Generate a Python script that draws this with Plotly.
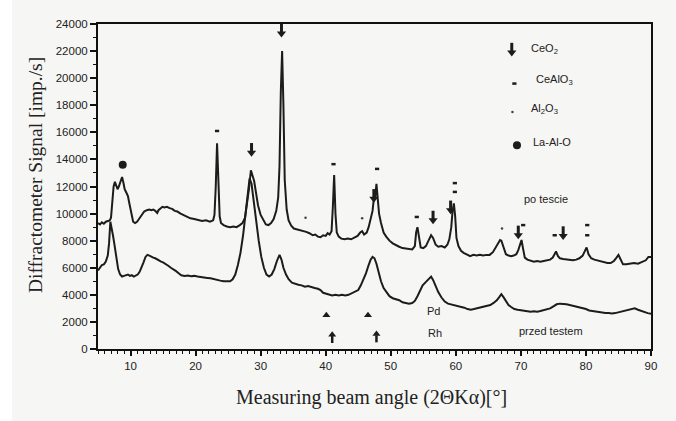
import plotly.graph_objects as go

# ---- data: "po tescie" (after test) pattern ----
x_po = [5.0, 5.3, 5.6, 5.9, 6.2, 6.5, 6.8, 7.0, 7.2, 7.4, 7.6, 7.8, 8.0, 8.2, 8.5, 8.7, 8.9, 9.1, 9.4, 9.6,
        9.8, 10.1, 10.4, 10.7, 11.0, 11.3, 11.7, 12.1, 12.5, 12.9, 13.2, 13.5, 13.8, 14.1, 14.3, 14.6, 14.9,
        15.2, 15.6, 16.0, 16.4, 16.8, 17.2, 17.7, 18.2, 18.7, 19.2, 19.8, 20.4, 21.0, 21.6, 22.2, 22.7, 22.9,
        23.1, 23.3, 23.5, 23.7, 23.9, 24.3, 24.8, 25.3, 25.8, 26.3, 26.8, 27.2, 27.6, 27.9, 28.2, 28.5, 28.7,
        29.0, 29.3, 29.6, 30.0, 30.4, 30.8, 31.2, 31.6, 32.0, 32.4, 32.7, 32.9, 33.1, 33.3, 33.5, 33.7, 34.0,
        34.3, 34.7, 35.1, 35.5, 36.0, 36.5, 37.0, 37.5, 38.0, 38.4, 38.8, 39.2, 39.6, 40.0, 40.3, 40.6, 40.9,
        41.1, 41.3, 41.5, 41.7, 42.0, 42.4, 42.9, 43.4, 43.9, 44.4, 44.9, 45.3, 45.6, 45.9, 46.3, 46.6, 46.9,
        47.2, 47.4, 47.6, 47.8, 48.0, 48.2, 48.5, 48.9, 49.3, 49.8, 50.3, 50.8, 51.3, 51.8, 52.3, 52.8, 53.3,
        53.7, 53.9, 54.1, 54.3, 54.6, 55.0, 55.4, 55.8, 56.2, 56.5, 56.9, 57.3, 57.8, 58.3, 58.7, 59.0, 59.3,
        59.5, 59.7, 59.9, 60.1, 60.4, 60.8, 61.2, 61.7, 62.2, 62.7, 63.2, 63.7, 64.2, 64.7, 65.2, 65.7, 66.1,
        66.5, 66.8, 67.0, 67.3, 67.7, 68.1, 68.5, 68.9, 69.3, 69.6, 69.9, 70.1, 70.3, 70.6, 71.0, 71.5, 72.0,
        72.5, 73.0, 73.5, 74.0, 74.5, 74.9, 75.2, 75.4, 75.7, 76.0, 76.5, 77.0, 77.5, 78.0, 78.5, 79.0, 79.5,
        79.8, 80.1, 80.4, 80.8, 81.3, 82.0, 82.7, 83.3, 83.8, 84.3, 84.7, 85.0, 85.3, 85.7, 86.2, 86.8, 87.4,
        88.0, 88.6, 89.2, 89.6, 90.0]
y_po = [9300, 9200, 9350, 9250, 9400, 9450, 9500, 9700, 10800, 12000, 12350, 12100, 11800, 12000, 12400, 12700,
        12300, 11800, 11500, 11300, 10800, 10000, 9400, 9300, 9400, 9600, 9900, 10150, 10250, 10300, 10250,
        10300, 10200, 10050, 10250, 10400, 10500, 10450, 10500, 10400, 10350, 10200, 10150, 10000, 9900, 9800,
        9650, 9600, 9500, 9450, 9500, 9400, 9500, 9900, 12000, 15200, 12500, 9800, 9300, 9150, 9050, 9000,
        9050, 9000, 9150, 9300, 9700, 10600, 11800, 13200, 12800, 12400, 11500, 10600, 9900, 9500, 9200, 9150,
        9300, 9600, 10200, 11200, 13500, 19000, 22000, 18000, 12500, 10300, 9500, 9100, 8900, 8850, 8800, 8750,
        8650, 8550, 8400, 8450, 8300, 8250, 8400, 8350, 8550, 8450, 8700, 10500, 12850, 10000, 8600, 8300, 8150,
        8100, 8150, 8100, 8200, 8350, 8600, 8700, 8450, 8600, 9000, 9600, 10200, 11100, 11200, 12200, 11000,
        10000, 9300, 8600, 8300, 8000, 7800, 7650, 7550, 7450, 7400, 7350, 7350, 7600, 8600, 9000, 8300, 7500,
        7450, 7600, 8000, 8400, 8200, 7700, 7550, 7600, 7500, 7700, 8100, 9000, 10200, 10750, 9800, 8200, 7600,
        7250, 7100, 6950, 6850, 6950, 6900, 6950, 6900, 6950, 6950, 7150, 7450, 7750, 8050, 8000, 7600, 7000,
        6900, 6850, 6900, 7000, 7300, 7700, 8050, 7500, 6750, 6600, 6500, 6450, 6500, 6450, 6500, 6550, 6600,
        6750, 7100, 7200, 6850, 6700, 6650, 6600, 6600, 6550, 6600, 6700, 6900, 7200, 7500, 7000, 6700, 6600,
        6500, 6400, 6350, 6350, 6500, 6750, 6950, 6650, 6250, 6250, 6300, 6350, 6300, 6400, 6550, 6800, 6800]

# ---- data: "przed testem" (before test) pattern ----
x_pr = [5.0, 5.3, 5.6, 5.9, 6.2, 6.5, 6.7, 6.9, 7.1, 7.3, 7.5, 7.8, 8.1, 8.4, 8.7, 9.0, 9.3, 9.6, 9.9, 10.2,
        10.5, 10.8, 11.1, 11.4, 11.7, 12.0, 12.3, 12.6, 12.9, 13.2, 13.5, 13.8, 14.1, 14.4, 14.7, 15.0, 15.4,
        15.8, 16.2, 16.6, 17.0, 17.4, 17.8, 18.3, 18.8, 19.3, 19.8, 20.3, 20.8, 21.3, 21.8, 22.3, 22.8, 23.3,
        23.8, 24.3, 24.8, 25.3, 25.7, 26.1, 26.5, 26.9, 27.3, 27.7, 28.0, 28.3, 28.6, 28.9, 29.3, 29.7, 30.1,
        30.5, 30.9, 31.3, 31.7, 32.1, 32.5, 32.9, 33.2, 33.5, 33.9, 34.3, 34.8, 35.3, 35.8, 36.3, 36.8, 37.3,
        37.8, 38.3, 38.8, 39.2, 39.6, 40.0, 40.5, 41.0, 41.5, 42.0, 42.5, 43.0, 43.5, 44.0, 44.5, 45.0, 45.4,
        45.8, 46.2, 46.6, 46.9, 47.2, 47.5, 47.8, 48.1, 48.5, 48.9, 49.3, 49.8, 50.3, 50.8, 51.3, 51.8, 52.3,
        52.8, 53.3, 53.7, 54.1, 54.5, 54.9, 55.3, 55.7, 56.0, 56.2, 56.5, 56.9, 57.3, 57.8, 58.3, 58.8, 59.3,
        59.8, 60.3, 60.8, 61.3, 61.8, 62.3, 62.8, 63.3, 63.8, 64.3, 64.8, 65.3, 65.8, 66.3, 66.7, 67.0, 67.3,
        67.7, 68.1, 68.5, 69.0, 69.5, 70.0, 70.5, 71.0, 71.5, 72.0, 72.5, 73.0, 73.5, 74.0, 74.5, 75.0, 75.5,
        76.0, 76.5, 77.0, 77.5, 78.0, 78.5, 79.0, 79.5, 80.0, 80.5, 81.0, 81.5, 82.0, 82.5, 83.0, 83.5, 84.0,
        84.5, 85.0, 85.5, 86.0, 86.5, 87.0, 87.5, 88.0, 88.5, 89.0, 89.5, 90.0]
y_pr = [5800, 6000, 6200, 6250, 6450, 6900, 7800, 9400, 9000, 8400, 7800, 6800, 5900, 5500, 5350, 5400, 5450,
        5500, 5400, 5450, 5350, 5400, 5500, 5700, 6000, 6400, 6800, 6950, 6900, 6800, 6750, 6700, 6600, 6550,
        6450, 6400, 6300, 6150, 6000, 5900, 5750, 5600, 5450, 5400, 5420, 5380, 5400, 5350, 5300, 5300, 5250,
        5220, 5150, 5100, 5050, 5000, 4980, 5000, 5150, 5500, 6200, 7100, 8400, 10200, 11500, 12600, 12200,
        11000, 9500, 8000, 6800, 6000, 5500, 5350, 5500, 5900, 6500, 6950, 6600, 6000, 5500, 5150, 4900, 4800,
        4750, 4700, 4600, 4650, 4550, 4500, 4450, 4350, 4150, 4100, 4000, 3950, 4000, 3950, 4000, 3950, 4000,
        4100, 4200, 4350, 4700, 5150, 5600, 6200, 6600, 6800, 6700, 6300, 5700, 5000, 4500, 4200, 3900, 3750,
        3700, 3600, 3450, 3400, 3350, 3400, 3550, 3900, 4350, 4700, 4900, 5100, 5300, 5350, 5100, 4600, 4200,
        3800, 3500, 3350, 3300, 3250, 3200, 3150, 3050, 2950, 2900, 2950, 3000, 3050, 3100, 3200, 3250, 3400,
        3600, 3850, 4050, 3850, 3500, 3250, 3100, 2950, 2900, 2850, 2850, 2800, 2750, 2780, 2750, 2800, 2850,
        2900, 3000, 3150, 3300, 3350, 3350, 3300, 3250, 3200, 3100, 3050, 3000, 2950, 2850, 2800, 2750, 2700,
        2700, 2650, 2650, 2620, 2650, 2700, 2750, 2800, 2900, 2950, 3000, 2900, 2800, 2700, 2650, 2600]

# ---- phase markers (peak identification) ----
ceo2_x = [28.6, 33.2, 47.4, 56.5, 59.2, 69.6, 76.5]
ceo2_y = [14500, 23300, 11100, 9500, 10250, 8400, 8350]
cealo3_x = [23.3, 41.2, 47.9, 54.0, 59.85, 59.85, 70.35, 75.2, 80.2, 80.2]
cealo3_y = [16100, 13650, 13300, 9750, 12250, 11600, 9150, 8400, 9150, 8400]
al2o3_x = [36.9, 45.6, 67.1]
al2o3_y = [9700, 9650, 8900]
laalo_x = [8.8]
laalo_y = [13600]
pd_x = [40.1, 46.5]
pd_y = [2500, 2500]
rh_x = [41.0, 47.8]
rh_y = [1050, 1100]

# legend keys
legend_labels = ["CeO<sub>2</sub>", "CeAlO<sub>3</sub>", "Al<sub>2</sub>O<sub>3</sub>", "La-Al-O"]
legend_sym_x = [68.6, 69.0, 68.7, 69.4]
legend_sym_y = [21900, 19600, 17500, 15050]
legend_txt_x = [71.3, 72.0, 71.2, 71.5]

# curve labels
curve_labels = ["po tescie", "przed testem", "Pd", "Rh"]
curve_label_x = [73.8, 74.6, 56.5, 56.8]
curve_label_y = [11050, 1350, 2800, 1200]

BG = "#f6f6f4"
INK = "#1c1c1c"

fig = go.Figure()
fig.add_trace(go.Scatter(x=x_po, y=y_po, mode="lines", line=dict(color=INK, width=2), showlegend=False))
fig.add_trace(go.Scatter(x=x_pr, y=y_pr, mode="lines", line=dict(color=INK, width=2), showlegend=False))

# CeO2: thick down arrow (head + stem)
stem_off = 400
fig.add_trace(go.Scatter(x=ceo2_x + [legend_sym_x[0]], y=ceo2_y + [legend_sym_y[0]], mode="markers",
                         marker=dict(symbol="triangle-down", size=8, color=INK), showlegend=False))
fig.add_trace(go.Scatter(x=ceo2_x + [legend_sym_x[0]], y=[v + stem_off for v in ceo2_y + [legend_sym_y[0]]],
                         mode="markers", marker=dict(symbol="line-ns", size=6, line=dict(color=INK, width=3)),
                         showlegend=False))
# CeAlO3: short dash
fig.add_trace(go.Scatter(x=cealo3_x + [legend_sym_x[1]], y=cealo3_y + [legend_sym_y[1]], mode="markers",
                         marker=dict(symbol="line-ew", size=3, line=dict(color=INK, width=2.5)), showlegend=False))
# Al2O3: tiny dot
fig.add_trace(go.Scatter(x=al2o3_x + [legend_sym_x[2]], y=al2o3_y + [legend_sym_y[2]], mode="markers",
                         marker=dict(symbol="circle", size=2.5, color="#444"), showlegend=False))
# La-Al-O: filled circle
fig.add_trace(go.Scatter(x=laalo_x + [legend_sym_x[3]], y=laalo_y + [legend_sym_y[3]], mode="markers",
                         marker=dict(symbol="circle", size=8, color=INK), showlegend=False))
# Pd: triangle up
fig.add_trace(go.Scatter(x=pd_x, y=pd_y, mode="markers",
                         marker=dict(symbol="triangle-up", size=7, color=INK), showlegend=False))
# Rh: up arrow
fig.add_trace(go.Scatter(x=rh_x, y=rh_y, mode="markers",
                         marker=dict(symbol="triangle-up", size=7, color=INK), showlegend=False))
fig.add_trace(go.Scatter(x=rh_x, y=[v - 350 for v in rh_y], mode="markers",
                         marker=dict(symbol="line-ns", size=5, line=dict(color=INK, width=2.5)), showlegend=False))

annotations = []
for lab, tx, ty in zip(legend_labels, legend_txt_x, legend_sym_y):
    annotations.append(dict(x=tx, y=ty + 250, xref="x", yref="y", text=lab, showarrow=False,
                            xanchor="left", yanchor="middle",
                            font=dict(family="Liberation Sans, Arial", size=11, color="#222")))
for lab, tx, ty in zip(curve_labels, curve_label_x, curve_label_y):
    annotations.append(dict(x=tx, y=ty, xref="x", yref="y", text=lab, showarrow=False,
                            xanchor="center", yanchor="middle",
                            font=dict(family="Liberation Sans, Arial", size=11, color="#222")))
annotations.append(dict(x=-0.114, y=0.535, xref="paper", yref="paper", text="Diffractometer Signal [imp./s]",
                        textangle=-90, showarrow=False, xanchor="center", yanchor="middle",
                        font=dict(family="Liberation Serif, Times New Roman", size=19.5, color="#222")))
annotations.append(dict(x=0.494, y=-0.148, xref="paper", yref="paper", text="Measuring beam angle (2ΘKα)[°]",
                        showarrow=False, xanchor="center", yanchor="middle",
                        font=dict(family="Liberation Serif, Times New Roman", size=20, color="#222")))

fig.update_layout(
    width=676, height=421,
    margin=dict(l=98, r=25, t=24, b=72),
    paper_bgcolor=BG, plot_bgcolor=BG,
    annotations=annotations,
    shapes=[dict(type="rect", xref="paper", yref="paper", x0=-0.2, x1=(12 - 98) / 553, y0=-0.3, y1=1.2,
                 fillcolor="white", line=dict(width=0), layer="below")],
)
fig.update_xaxes(range=[5, 90], tick0=0, dtick=10, showgrid=False, zeroline=False,
                 showline=True, linecolor="#111", linewidth=2, mirror=True,
                 ticks="outside", ticklen=5, tickwidth=1.5, tickcolor="#111",
                 minor=dict(dtick=1, ticks="outside", ticklen=3, tickwidth=1, tickcolor="#111"),
                 tickfont=dict(family="Liberation Sans, Arial", size=11.5, color="#222"))
fig.update_yaxes(range=[0, 24000], tick0=0, dtick=2000, tickformat="d", showgrid=False, zeroline=False,
                 showline=True, linecolor="#111", linewidth=2, mirror=True,
                 ticks="outside", ticklen=6, tickwidth=1.5, tickcolor="#111",
                 minor=dict(dtick=1000, ticks="outside", ticklen=3, tickwidth=1, tickcolor="#111"),
                 tickfont=dict(family="Liberation Sans, Arial", size=11.5, color="#222"))

fig.write_html("out.html")
